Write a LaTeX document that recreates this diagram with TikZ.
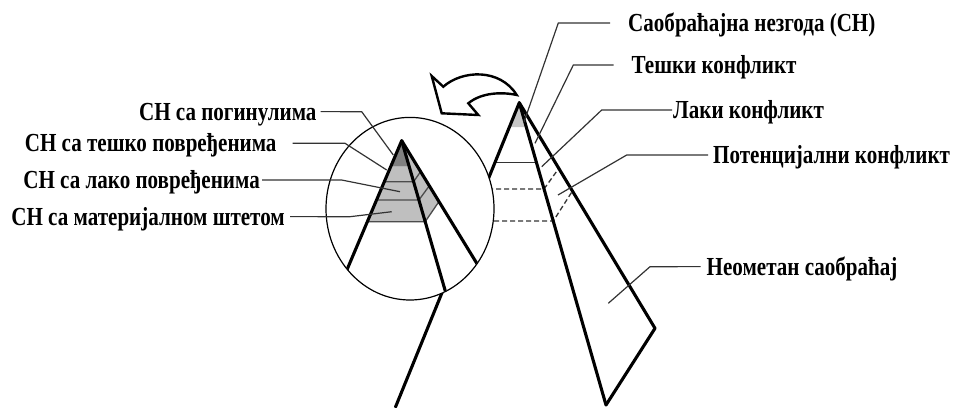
\documentclass[tikz,border=0pt]{standalone}
\usepackage{fontspec}
\usetikzlibrary{shapes.geometric}
\setmainfont{Liberation Serif}[FakeStretch=0.81]
\begin{document}
\begin{tikzpicture}[x=1pt,y=-1pt,
  thickline/.style={line width=3.1pt,line cap=round,line join=round},
  leader/.style={line width=1.2pt,draw=black!80},
  band/.style={line width=1.3pt,draw=black!70},
  lbl/.style={font=\fontsize{26}{28}\selectfont\bfseries,inner sep=0pt,anchor=base west},
  lblL/.style={lbl,anchor=base east},
  dashline/.style={line width=1.3pt,draw=black!80,dash pattern=on 5pt off 3pt}]
\useasboundingbox (0,0) rectangle (958,407);
% big pyramid
\coordinate (BA) at (519.3,102.7);
\coordinate (BL) at (395.5,407);
\coordinate (BM) at (606,405);
\coordinate (BR) at (655,328.3);
\fill[black!22] (BA) -- (509.4,127) -- (526.3,127) -- cycle;
\draw[line width=1.3pt,black!80] (495.9,162.7) -- (536.5,162.7);
\draw[dashline] (480,189) -- (544,189) -- (559.7,167.1);
\draw[dashline] (470,221) -- (553.3,221) -- (572.4,191.1);
\draw[thickline] (BL) -- (BA) -- (BM);
\draw[thickline] (BA) -- (BR) -- (BM);
% circle
\node[draw,line width=1.2pt,fill=white,ellipse,minimum width=168pt,minimum height=182.6pt,inner sep=0pt] (C) at (410,208.7) {};
% small pyramid
\begin{scope}
\clip (410,208.7) ellipse [x radius=83.5pt, y radius=90.8pt];
\coordinate (SA) at (401.7,140.7);
\fill[black!50] (SA) -- (390.7,166.7) -- (409.2,166.7) -- cycle;
\fill[black!25] (390.7,166.7) -- (409.2,166.7) -- (425.2,221.7) -- (367.4,221.7) -- cycle;
\fill[black!25] (SA) -- (438.8,201.8) -- (425.2,221.7) -- cycle;
\draw[band] (384.3,181.7) -- (413.6,181.7) -- (420.6,171.6);
\draw[band] (376.6,200) -- (418.9,200) -- (429.6,185.4);
\draw[band] (367.4,221.7) -- (425.2,221.7) -- (438.8,201.8);
\draw[thickline] (SA) -- ++(-61.5,145);
\draw[thickline] (SA) -- ++(48,165.5);
\draw[thickline] (SA) -- ++(90,147);
\end{scope}
% arrow
\draw[line width=2.4pt,line join=miter,fill=white] (431.7,76) -- (443.3,86.7)
  .. controls (462,70) and (500,68) .. (516.7,95)
  .. controls (503,92) and (482,92) .. (468.3,103.3)
  -- (478.3,115) -- (441.7,113.3) -- cycle;
% labels right
\node[lbl] (r1) at (628,31.7) {Саобраћајна незгода (СН)};
\node[lbl] (r2) at (631.5,73.7) {Тешки конфликт};
\node[lbl] (r3) at (673,118.7) {Лаки конфликт};
\node[lbl] (r4) at (713,163.7) {Потенцијални конфликт};
\node[lbl] (r5) at (706.5,275.3) {Неометан саобраћај};
% labels left
\node[lblL] (l1) at (316.7,120.3) {СН са погинулима};
\node[lblL] (l2) at (276.7,151.9) {СН са тешко повређенима};
\node[lblL] (l3) at (260,188.6) {СН са лако повређенима};
\node[lblL] (l4) at (285,225.3) {СН са материјалном штетом};
% leader ends
\coordinate (e1) at (524,122);
\coordinate (e2) at (535,143.3);
\coordinate (e3) at (541.7,166.7);
\coordinate (e4) at (558,195);
\coordinate (e5) at (608.3,303.3);
\coordinate (f1) at (393.3,155);
\coordinate (f2) at (386.7,170);
\coordinate (f3) at (400,191.7);
\coordinate (f4) at (391.7,211.7);
\draw[leader] ([xshift=-18pt,yshift=8.7pt]r1.base west) -- (558.3,23) -- (e1);
\draw[leader] ([xshift=-18pt,yshift=8.7pt]r2.base west) -- (573.3,65) -- (e2);
\draw[leader] ([xshift=-1pt,yshift=8.7pt]r3.base west) -- (601.7,110) -- (e3);
\draw[leader] ([xshift=-5pt,yshift=8.7pt]r4.base west) -- (626.7,155) -- (e4);
\draw[leader] ([xshift=-6pt,yshift=8.7pt]r5.base west) -- (650,266.7) -- (e5);
\draw[leader] ([xshift=4pt,yshift=8.7pt]l1.base east) -- (361.7,111.7) -- (f1);
\draw[leader] ([xshift=16pt,yshift=8.7pt]l2.base east) -- (345,143.3) -- (f2);
\draw[leader] ([xshift=2pt,yshift=8.7pt]l3.base east) -- (341.7,180) -- (f3);
\draw[leader] ([xshift=5pt,yshift=8.7pt]l4.base east) -- (350,216.7) -- (f4);
\end{tikzpicture}
\end{document}
